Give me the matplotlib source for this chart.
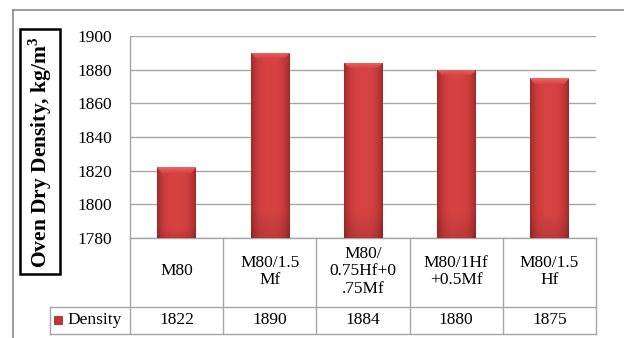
import numpy as np
import matplotlib
matplotlib.use("Agg")
import matplotlib.pyplot as plt
from matplotlib.lines import Line2D
from matplotlib.patches import Rectangle
import matplotlib.transforms as mtransforms

categories = ["M80", "M80/1.5\nMf", "M80/\n0.75Hf+0\n.75Mf", "M80/1Hf\n+0.5Mf", "M80/1.5\nHf"]
density = [1822, 1890, 1884, 1880, 1875]
series_name = "Density"
y_ticks = [1780, 1800, 1820, 1840, 1860, 1880, 1900]

plt.rcParams['font.family'] = ['Liberation Serif', 'DejaVu Serif']

W, H = 624, 338
fig = plt.figure(figsize=(W / 100, H / 100), dpi=100)
fig.patch.set_facecolor('white')

def fx(px):
    return px / W

def fy(py):
    return 1 - py / H

FS = 12.5
ax_l, ax_r, ax_t, ax_b = 130, 596, 36, 238
ax = fig.add_axes([fx(ax_l), fy(ax_b), (ax_r - ax_l) / W, (ax_b - ax_t) / H])
ax.set_xlim(-0.5, len(categories) - 0.5)
ax.set_ylim(1780, 1900)
ax.set_yticks(y_ticks)
ax.set_yticklabels([str(v) for v in y_ticks], fontsize=FS)
ax.tick_params(axis='y', length=0, pad=13)
ax.set_xticks([])
for s in ['top', 'right', 'bottom']:
    ax.spines[s].set_visible(False)
ax.spines['left'].set_color('#a6a6a6')
ax.spines['left'].set_linewidth(1.0)
ax.yaxis.grid(True, color='#a6a6a6', linewidth=1.0)
ax.set_axisbelow(True)

bar_w = 0.41
bars = ax.bar(range(len(categories)), [d - 1780 for d in density], bottom=1780,
              width=bar_w, color='#c83a3a', edgecolor='none', zorder=2)

# gradient shading for each bar
nx, ny = 60, 400
t = np.linspace(0, 1, nx)
prof = 1 - np.abs(2 * t - 1) ** 3
c_edge = np.array([0.64, 0.16, 0.16])
c_mid = np.array([0.84, 0.26, 0.26])
for rect, d in zip(bars, density):
    x0 = rect.get_x()
    x1 = x0 + rect.get_width()
    base = c_edge[None, :] + (c_mid - c_edge)[None, :] * prof[:, None]
    img = np.repeat(base[None, :, :], ny, axis=0)
    yy = np.linspace(0, 1, ny)  # 0 top, 1 bottom
    dark = np.clip((yy - 0.85) / 0.15, 0, 1) * 0.12
    img = img * (1 - dark[:, None, None])
    # top bevel (trapezoid, light fading into body)
    bev_units = 3.6
    nb = max(3, int(ny * bev_units / (d - 1780)))
    for r in range(nb):
        frac = r / nb
        margin = int(nx * 0.13 * frac)
        light = np.array([0.92, 0.40, 0.40]) * (1 - frac) + c_mid * frac
        img[r, margin:nx - margin, :] = light
    img = np.clip(img, 0, 1)
    im = ax.imshow(img, extent=(x0, x1, 1780, d), aspect='auto', zorder=3,
                   interpolation='bilinear')
    im.set_clip_path(rect)
ax.set_xlim(-0.5, len(categories) - 0.5)
ax.set_ylim(1780, 1900)

# data table below axes
trans = mtransforms.blended_transform_factory(ax.transData, ax.transAxes)
ph = ax_b - ax_t
row1 = -(307 - ax_b) / ph
row2 = -(334 - ax_b) / ph
leg_x = -(ax_l - 50) / (ax_r - ax_l)
gc = '#a6a6a6'
n = len(categories)
ax.add_line(Line2D([-0.5, n - 0.5], [0, 0], transform=trans, color=gc, lw=1, clip_on=False))
ax.add_line(Line2D([-0.5, n - 0.5], [row2, row2], transform=trans, color=gc, lw=1, clip_on=False))
ax.add_line(Line2D([leg_x, 1], [row1, row1], transform=ax.transAxes, color=gc, lw=1, clip_on=False))
ax.add_line(Line2D([leg_x, 0], [row2, row2], transform=ax.transAxes, color=gc, lw=1, clip_on=False))
ax.add_line(Line2D([leg_x, leg_x], [row1, row2], transform=ax.transAxes, color=gc, lw=1, clip_on=False))
for i in range(n + 1):
    ax.add_line(Line2D([i - 0.5, i - 0.5], [0, row2], transform=trans, color=gc, lw=1, clip_on=False))
for i, (c, d) in enumerate(zip(categories, density)):
    ax.text(i, row1 / 2 + 0.005, c, transform=trans, ha='center', va='center', fontsize=FS,
            linespacing=1.15)
    ax.text(i, (row1 + row2) / 2, str(d), transform=trans, ha='center', va='center', fontsize=FS)
# legend key
ax.add_patch(Rectangle((-(ax_l - 54) / (ax_r - ax_l), (row1 + row2) / 2 - 4.5 / ph),
                       9 / (ax_r - ax_l), 9 / ph, transform=ax.transAxes,
                       facecolor='#c03535', edgecolor='none', clip_on=False))
ax.text(-(ax_l - 67) / (ax_r - ax_l), (row1 + row2) / 2, series_name, transform=ax.transAxes,
        ha='left', va='center', fontsize=FS)

# outer chart border
fig.add_artist(Line2D([fx(13), fx(624)], [fy(10), fy(10)], color='#8c8c8c', lw=1.2))
fig.add_artist(Line2D([fx(13), fx(13)], [fy(10), fy(338)], color='#8c8c8c', lw=1.2))

# y label box
fig.add_artist(Rectangle((fx(20), fy(274)), (60 - 20) / W, (274 - 29) / H,
                         facecolor='white', edgecolor='black', lw=1.8))
fig.text(fx(40.5), fy(152), "Oven Dry Density, kg/m$^{\\mathregular{3}}$", rotation=90,
         ha='center', va='center', fontsize=15.5, fontweight='bold')

fig.savefig("out.png", dpi=100, facecolor='white')
